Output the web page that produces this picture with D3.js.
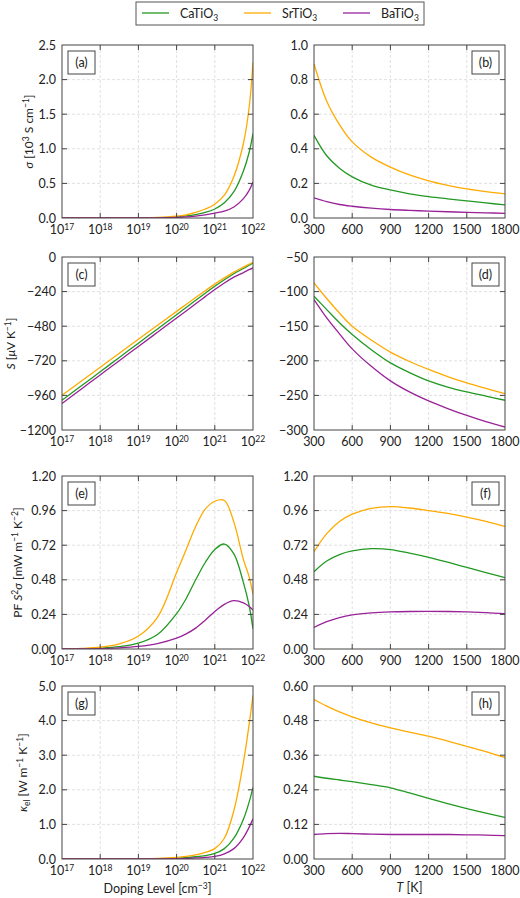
<!DOCTYPE html>
<html><head><meta charset="utf-8">
<script src="https://cdn.jsdelivr.net/npm/d3@7"></script>
<style>
body{margin:0;background:#fff}
text{font-family:Lato,"Open Sans",sans-serif;fill:#222}
</style>
</head><body>
<svg id="chart" width="520" height="898"></svg>
<script>
// ---------- data ----------
const materials = ["CaTiO3", "SrTiO3", "BaTiO3"];
const colors = ["#229922", "#ffaa00", "#992299"];

const doping = [1e17, 3.16e17, 1e18, 3.16e18, 1e19, 3.16e19, 1e20, 1.78e20, 3.16e20, 5.62e20,
                1e21, 1.78e21, 3.16e21, 5.62e21, 7.94e21, 1e22];
const temperature = [300, 400, 500, 600, 750, 900, 1050, 1200, 1350, 1500, 1650, 1800];

// (a) sigma vs doping [10^3 S/cm]
const sigmaDopCa = [0, 0.0001, 0.0002, 0.0006, 0.0018, 0.005, 0.017, 0.03, 0.05, 0.08, 0.13, 0.22, 0.38, 0.68, 0.95, 1.22];
const sigmaDopSr = [0, 0.0001, 0.0003, 0.001, 0.003, 0.008, 0.026, 0.045, 0.08, 0.13, 0.2, 0.33, 0.6, 1.08, 1.6, 2.25];
const sigmaDopBa = [0, 0, 0.0001, 0.0002, 0.0006, 0.0017, 0.008, 0.015, 0.028, 0.045, 0.07, 0.1, 0.16, 0.28, 0.4, 0.52];
// (b) sigma vs T
const sigmaTCa = [0.478, 0.36, 0.288, 0.238, 0.19, 0.162, 0.14, 0.124, 0.111, 0.099, 0.087, 0.076];
const sigmaTSr = [0.89, 0.675, 0.54, 0.44, 0.352, 0.294, 0.249, 0.215, 0.189, 0.168, 0.152, 0.139];
const sigmaTBa = [0.116, 0.094, 0.078, 0.068, 0.057, 0.049, 0.044, 0.04, 0.036, 0.033, 0.03, 0.027];
// (c) Seebeck vs doping [uV/K]
const seebDopCa = [-994, -895, -796, -697, -598, -499, -400, -350, -300, -251, -203, -158, -116, -80, -57, -42];
const seebDopSr = [-959, -862, -765, -668, -571, -474, -377, -329, -281, -234, -188, -145, -105, -70, -50, -37];
const seebDopBa = [-1016, -917, -818, -719, -621, -522, -423, -374, -324, -275, -226, -180, -140, -108, -88, -76];
// (d) Seebeck vs T
const seebTCa = [-106.7, -126, -145, -162, -184, -203, -217, -229, -238, -245, -251, -257];
const seebTSr = [-87.5, -110, -131, -150, -170, -187.5, -201, -212.5, -223, -232, -240, -247.6];
const seebTBa = [-111.5, -138, -161, -182.7, -208, -229, -245, -258, -269, -279, -288, -295.7];
// (e) PF vs doping [mW m^-1 K^-2]
const pfDopCa = [0, 0.002, 0.006, 0.016, 0.04, 0.1, 0.245, 0.35, 0.48, 0.6, 0.69, 0.728, 0.66, 0.46, 0.3, 0.14];
const pfDopSr = [0.001, 0.004, 0.012, 0.035, 0.09, 0.22, 0.53, 0.69, 0.85, 0.97, 1.025, 1.03, 0.88, 0.62, 0.5, 0.38];
const pfDopBa = [0, 0.001, 0.003, 0.008, 0.018, 0.038, 0.075, 0.105, 0.145, 0.2, 0.26, 0.31, 0.335, 0.32, 0.295, 0.27];
// (f) PF vs T
const pfTCa = [0.536, 0.61, 0.655, 0.68, 0.696, 0.69, 0.665, 0.636, 0.602, 0.566, 0.53, 0.495];
const pfTSr = [0.675, 0.8, 0.885, 0.936, 0.975, 0.987, 0.978, 0.96, 0.94, 0.915, 0.885, 0.85];
const pfTBa = [0.15, 0.19, 0.218, 0.236, 0.25, 0.257, 0.26, 0.261, 0.26, 0.257, 0.252, 0.245];
// (g) kappa_el vs doping [W m^-1 K^-1]
const kapDopCa = [0, 0, 0.001, 0.002, 0.004, 0.01, 0.025, 0.04, 0.065, 0.1, 0.16, 0.3, 0.6, 1.15, 1.65, 2.07];
const kapDopSr = [0, 0, 0.001, 0.003, 0.006, 0.015, 0.045, 0.075, 0.12, 0.19, 0.3, 0.6, 1.4, 2.8, 3.9, 4.73];
const kapDopBa = [0, 0, 0, 0.001, 0.002, 0.004, 0.01, 0.015, 0.03, 0.045, 0.075, 0.15, 0.3, 0.62, 0.92, 1.16];
// (h) kappa_el vs T
const kapTCa = [0.287, 0.28, 0.274, 0.268, 0.258, 0.247, 0.229, 0.21, 0.192, 0.175, 0.159, 0.144];
const kapTSr = [0.553, 0.53, 0.51, 0.493, 0.472, 0.455, 0.44, 0.426, 0.409, 0.391, 0.372, 0.352];
const kapTBa = [0.085, 0.088, 0.089, 0.088, 0.086, 0.085, 0.085, 0.085, 0.085, 0.084, 0.083, 0.081];

// tick values
const dopingTicks = [1e17, 1e18, 1e19, 1e20, 1e21, 1e22];
const tempTicks = [300, 600, 900, 1200, 1500, 1800];
const sigmaDopTicks = [0, 0.5, 1.0, 1.5, 2.0, 2.5];
const sigmaTTicks = [0, 0.2, 0.4, 0.6, 0.8, 1.0];
const seebDopTicks = [-1200, -960, -720, -480, -240, 0];
const seebTTicks = [-300, -250, -200, -150, -100, -50];
const pfTicks = [0, 0.24, 0.48, 0.72, 0.96, 1.20];
const kapDopTicks = [0, 1, 2, 3, 4, 5];
const kapTTicks = [0, 0.12, 0.24, 0.36, 0.48, 0.60];

// ---------- layout ----------
const svg = d3.select("#chart");
const colX = [62, 314], PW = 191;
const rowY = [45, 257, 476, 686], PH = 173;
const FS = "12.5px";
const minus = s => s.replace("-", "\u2212");

function richText(sel, segs) {
  let shift = 0;
  segs.forEach(s => {
    const t = sel.append("tspan").text(s.t);
    let target = s.sup ? -4.5 : (s.sub ? 3 : 0);
    if (target !== shift) { t.attr("dy", target - shift); shift = target; }
    if (s.sup || s.sub) t.attr("font-size", "8.5px");
    if (s.i) t.attr("font-style", "italic");
  });
}

function panel(p) {
  const x0 = colX[p.col], y0 = rowY[p.row];
  const g = svg.append("g").attr("transform", `translate(${x0},${y0})`);
  const x = (p.log ? d3.scaleLog() : d3.scaleLinear()).domain(p.xdom).range([0, PW]);
  const y = d3.scaleLinear().domain(p.ydom).range([PH, 0]);
  const id = "clip" + p.label;
  g.append("clipPath").attr("id", id).append("rect").attr("width", PW).attr("height", PH);

  // grid
  const grid = g.append("g").attr("stroke", "#d9d9d9").attr("stroke-dasharray", "3,2").attr("stroke-width", 0.8);
  p.xticks.slice(1, -1).forEach(v => grid.append("line").attr("x1", x(v)).attr("x2", x(v)).attr("y1", 0).attr("y2", PH));
  p.yticks.slice(1, -1).forEach(v => grid.append("line").attr("y1", y(v)).attr("y2", y(v)).attr("x1", 0).attr("x2", PW));

  // lines
  const line = d3.line().x((d, i) => x(p.xs[i])).y(d => y(d)).curve(d3.curveCatmullRom.alpha(0.5));
  const lg = g.append("g").attr("clip-path", `url(#${id})`);
  p.series.forEach((s, k) => lg.append("path").attr("d", line(s)).attr("fill", "none")
    .attr("stroke", colors[k]).attr("stroke-width", 1.3));

  // frame
  g.append("rect").attr("width", PW).attr("height", PH).attr("fill", "none").attr("stroke", "#444").attr("stroke-width", 1);
  // ticks inward
  const tk = g.append("g").attr("stroke", "#444").attr("stroke-width", 1);
  p.xticks.slice(1, -1).forEach(v => {
    tk.append("line").attr("x1", x(v)).attr("x2", x(v)).attr("y1", PH).attr("y2", PH - 5);
    tk.append("line").attr("x1", x(v)).attr("x2", x(v)).attr("y1", 0).attr("y2", 5);
  });
  p.yticks.slice(1, -1).forEach(v => {
    tk.append("line").attr("y1", y(v)).attr("y2", y(v)).attr("x1", 0).attr("x2", 5);
    tk.append("line").attr("y1", y(v)).attr("y2", y(v)).attr("x1", PW).attr("x2", PW - 5);
  });

  // tick labels
  p.yticks.forEach(v => g.append("text").attr("x", -6).attr("y", y(v)).attr("dy", "0.36em")
    .attr("text-anchor", "end").attr("font-size", FS).text(minus(p.yfmt(v))));
  p.xticks.forEach(v => {
    const t = g.append("text").attr("x", x(v)).attr("y", PH + 16).attr("text-anchor", "middle").attr("font-size", FS);
    if (p.log) richText(t, [{ t: "10" }, { t: String(Math.round(Math.log10(v))), sup: true }]);
    else t.text(String(v));
  });

  // label box
  const bx = p.col === 0 ? 6 : PW - 6 - 27;
  g.append("rect").attr("x", bx).attr("y", 6).attr("width", 27).attr("height", 23)
    .attr("fill", "#fff").attr("stroke", "#444").attr("stroke-width", 1);
  g.append("text").attr("x", bx + 13.5).attr("y", 6 + 16).attr("text-anchor", "middle")
    .attr("font-size", FS).text(`(${p.label})`);

  if (p.ytitle) {
    const t = svg.append("text").attr("transform", `translate(${p.ytx},${y0 + PH / 2}) rotate(-90)`)
      .attr("text-anchor", "middle").attr("font-size", "12px");
    richText(t, p.ytitle);
  }
}

const f1 = d3.format(".1f"), f2 = d3.format(".2f"), f0 = d3.format("d");
const dopP = { log: true, xdom: [1e17, 1e22], xticks: dopingTicks, xs: doping, col: 0 };
const tP = { log: false, xdom: [300, 1800], xticks: tempTicks, xs: temperature, col: 1 };

panel({ ...dopP, row: 0, label: "a", ydom: [0, 2.5], yticks: sigmaDopTicks, yfmt: f1,
  series: [sigmaDopCa, sigmaDopSr, sigmaDopBa], ytx: 33,
  ytitle: [{ t: "σ", i: true }, { t: " [10" }, { t: "3", sup: true }, { t: " S cm" }, { t: "−1", sup: true }, { t: "]" }] });
panel({ ...tP, row: 0, label: "b", ydom: [0, 1.0], yticks: sigmaTTicks, yfmt: f1,
  series: [sigmaTCa, sigmaTSr, sigmaTBa] });
panel({ ...dopP, row: 1, label: "c", ydom: [-1200, 0], yticks: seebDopTicks, yfmt: f0,
  series: [seebDopCa, seebDopSr, seebDopBa], ytx: 15,
  ytitle: [{ t: "S", i: true }, { t: " [" }, { t: "μ", i: true }, { t: "V K" }, { t: "−1", sup: true }, { t: "]" }] });
panel({ ...tP, row: 1, label: "d", ydom: [-300, -50], yticks: seebTTicks, yfmt: f0,
  series: [seebTCa, seebTSr, seebTBa] });
panel({ ...dopP, row: 2, label: "e", ydom: [0, 1.2], yticks: pfTicks, yfmt: f2,
  series: [pfDopCa, pfDopSr, pfDopBa], ytx: 22,
  ytitle: [{ t: "PF " }, { t: "S", i: true }, { t: "2", sup: true }, { t: "σ", i: true }, { t: " [mW m" }, { t: "−1", sup: true }, { t: " K" }, { t: "−2", sup: true }, { t: "]" }] });
panel({ ...tP, row: 2, label: "f", ydom: [0, 1.2], yticks: pfTicks, yfmt: f2,
  series: [pfTCa, pfTSr, pfTBa] });
panel({ ...dopP, row: 3, label: "g", ydom: [0, 5], yticks: kapDopTicks, yfmt: f1,
  series: [kapDopCa, kapDopSr, kapDopBa], ytx: 27,
  ytitle: [{ t: "κ", i: true }, { t: "el", sub: true }, { t: " [W m" }, { t: "−1", sup: true }, { t: " K" }, { t: "−1", sup: true }, { t: "]" }] });
panel({ ...tP, row: 3, label: "h", ydom: [0, 0.6], yticks: kapTTicks, yfmt: f2,
  series: [kapTCa, kapTSr, kapTBa] });

// x titles
const xt1 = svg.append("text").attr("x", colX[0] + PW / 2).attr("y", 893).attr("text-anchor", "middle").attr("font-size", "12.5px");
richText(xt1, [{ t: "Doping Level [cm" }, { t: "−3", sup: true }, { t: "]" }]);
const xt2 = svg.append("text").attr("x", colX[1] + PW / 2).attr("y", 892).attr("text-anchor", "middle").attr("font-size", "12.5px");
richText(xt2, [{ t: "T", i: true }, { t: " [K]" }]);

// legend
const lgd = svg.append("g");
lgd.append("rect").attr("x", 136).attr("y", 2).attr("width", 288).attr("height", 23)
  .attr("fill", "#fff").attr("stroke", "#555").attr("stroke-width", 1);
const legX = [142, 244, 343];
materials.forEach((m, k) => {
  lgd.append("line").attr("x1", legX[k]).attr("x2", legX[k] + 27).attr("y1", 13).attr("y2", 13)
    .attr("stroke", colors[k]).attr("stroke-width", 1.3);
  const t = lgd.append("text").attr("x", legX[k] + 38).attr("y", 18).attr("font-size", "12.5px");
  richText(t, [{ t: m.slice(0, -1) }, { t: m.slice(-1), sub: true }]);
});
</script>
</body></html>
